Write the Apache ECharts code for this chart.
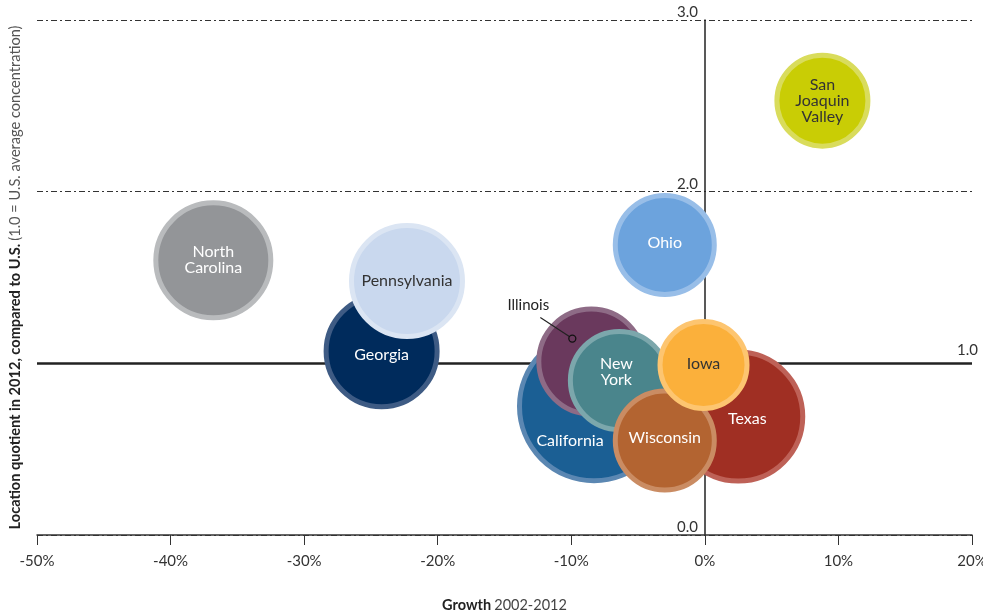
<!DOCTYPE html>
<html>
<head>
<meta charset="utf-8">
<script src="https://cdn.jsdelivr.net/npm/echarts@6/dist/echarts.min.js"></script>
<style>
html,body{margin:0;padding:0;background:#fff;}
#chart{width:983px;height:611px;}
</style>
</head>
<body>
<div id="chart"></div>
<script>
// ---- data ----
var regions = ['San Joaquin Valley','North Carolina','Georgia','Pennsylvania','Ohio','California','Illinois','New York','Texas','Wisconsin','Iowa'];
var growth  = [8.8, -36.8, -24.2, -22.3, -3.0, -8.3, -8.5, -6.4, 2.5, -3.0, -0.1];     // % growth 2002-2012
var lq      = [2.53, 1.60, 1.07, 1.48, 1.69, 0.75, 1.01, 0.90, 0.69, 0.55, 0.99];      // location quotient 2012
var bubble  = [96, 120, 116, 116, 104, 154, 110, 103, 134, 104, 92];                   // relative bubble size
var xTicks  = [-50, -40, -30, -20, -10, 0, 10, 20];
var yTicks  = [0, 1, 2, 3];

// ---- styles ----
var FONT = 'Lato, "Open Sans", sans-serif';
var styles = {
  'San Joaquin Valley': {fill:'#c9cd05', border:'#d9dc5c', text:'#333', label:'San\nJoaquin\nValley', off:[0,0]},
  'North Carolina':     {fill:'#939598', border:'#b9bbbd', text:'#fff', label:'North\nCarolina', off:[0,0]},
  'Georgia':            {fill:'#002b5c', border:'#3e5b84', text:'#fff', label:'Georgia', off:[0,4]},
  'Pennsylvania':       {fill:'#c9d8ee', border:'#dbe5f3', text:'#333', label:'Pennsylvania', off:[0,0]},
  'Ohio':               {fill:'#6ca3dd', border:'#98bee8', text:'#fff', label:'Ohio', off:[0,-2]},
  'California':         {fill:'#1b5f94', border:'#5b87b2', text:'#fff', label:'California', off:[-24,35]},
  'Illinois':           {fill:'#6a395d', border:'#8e6b86', text:'#fff', label:'', off:[0,0]},
  'New York':           {fill:'#4a858c', border:'#7ca7ac', text:'#fff', label:'New\nYork', off:[-3,-9]},
  'Texas':              {fill:'#a02f23', border:'#be6157', text:'#fff', label:'Texas', off:[9,2]},
  'Wisconsin':          {fill:'#b36431', border:'#ca8c63', text:'#fff', label:'Wisconsin', off:[0,-3]},
  'Iowa':               {fill:'#fbb03b', border:'#fdc570', text:'#333', label:'Iowa', off:[0,-1]}
};
var BW = 5;

var points = regions.map(function(n, i){
  var s = styles[n];
  return {
    name: n,
    value: [growth[i], lq[i], bubble[i]],
    itemStyle: {color: s.fill, borderColor: s.border, borderWidth: BW, opacity: 1},
    label: {show: !!s.label, formatter: s.label, color: s.text, offset: s.off}
  };
});

var chart = echarts.init(document.getElementById('chart'), null, {renderer:'canvas'});
var dash = [6,3,2,3];
var GRID_LEFT = 37;
chart.setOption({
  animation: false,
  backgroundColor: '#fff',
  textStyle: {fontFamily: FONT},
  grid: {left: GRID_LEFT, right: 11, top: 20, bottom: 76, containLabel: false, outerBoundsMode: 'none'},
  xAxis: {
    type: 'value', min: xTicks[0], max: xTicks[xTicks.length-1], interval: 10,
    axisLine: {show: true, onZero: false, lineStyle: {color: '#333', width: 1.5}},
    axisTick: {show: true, length: 10, lineStyle: {color: '#333', width: 1}},
    axisLabel: {color: '#333', fontSize: 15, margin: 19, fontFamily: FONT, formatter: function(v){ return v + '%'; }},
    splitLine: {show: false},
    name: '{b|Growth} {n|2002-2012}',
    nameLocation: 'middle', nameGap: 63,
    nameTextStyle: {rich: {
      b: {fontWeight: 'bold', fontSize: 14.5, color: '#222', fontFamily: FONT},
      n: {fontSize: 14.5, color: '#444', fontFamily: FONT}
    }}
  },
  yAxis: {
    type: 'value', min: yTicks[0], max: yTicks[yTicks.length-1], interval: 1,
    axisLine: {show: true, onZero: true, lineStyle: {color: '#222', width: 1.5}},
    axisTick: {show: false},
    axisLabel: {color: '#333', fontSize: 15, margin: GRID_LEFT - 698, verticalAlign: 'bottom', fontFamily: FONT,
      formatter: function(v){ return v === 1 ? '' : v.toFixed(1); }},
    splitLine: {show: true, lineStyle: {color: '#333', width: 1, type: dash}},
    name: '{b|Location quotient in 2012, compared to U.S.} {n|(1.0 = U.S. average concentration)}',
    nameLocation: 'middle', nameGap: 14, nameRotate: 90,
    nameTextStyle: {rich: {
      b: {fontWeight: 'bold', fontSize: 14.6, color: '#222', fontFamily: FONT},
      n: {fontSize: 14.6, color: '#555', fontFamily: FONT}
    }}
  },
  series: [{
    type: 'scatter',
    data: points,
    symbol: 'circle',
    symbolSize: function(v){ return v[2] - BW; },
    label: {show: true, position: 'inside', fontSize: 16, lineHeight: 16, fontFamily: FONT, align: 'center'},
    emphasis: {disabled: true},
    markLine: {
      silent: true, symbol: 'none', z: 1,
      lineStyle: {color: '#222', width: 2.5, type: 'solid'},
      label: {show: true, position: 'insideEndTop', formatter: '1.0', color: '#333', fontSize: 15, fontFamily: FONT, distance: [-6, 6]},
      data: [{yAxis: yTicks[1]}]
    }
  }]
});

// Illinois call-out, anchored to the Illinois data point
function drawCallout(){
  var i = regions.indexOf('Illinois');
  var p = chart.convertToPixel({gridIndex: 0}, [growth[i], lq[i]]);
  var c = [p[0] - 19, p[1] - 23];
  var e = [p[0] - 51, p[1] - 44];
  chart.setOption({graphic: [
    {type: 'line', shape: {x1: e[0], y1: e[1], x2: c[0] - 3, y2: c[1] - 2}, style: {stroke: '#222', lineWidth: 1.2}, z: 10},
    {type: 'circle', shape: {cx: c[0], cy: c[1], r: 3.5}, style: {stroke: '#111', lineWidth: 1.3, fill: 'none'}, z: 10},
    {type: 'text', x: e[0] - 12, y: e[1] - 5, style: {text: 'Illinois', fill: '#222', font: '15px ' + FONT, textAlign: 'center', textVerticalAlign: 'bottom'}, z: 10}
  ]});
}
drawCallout();
</script>
</body>
</html>
